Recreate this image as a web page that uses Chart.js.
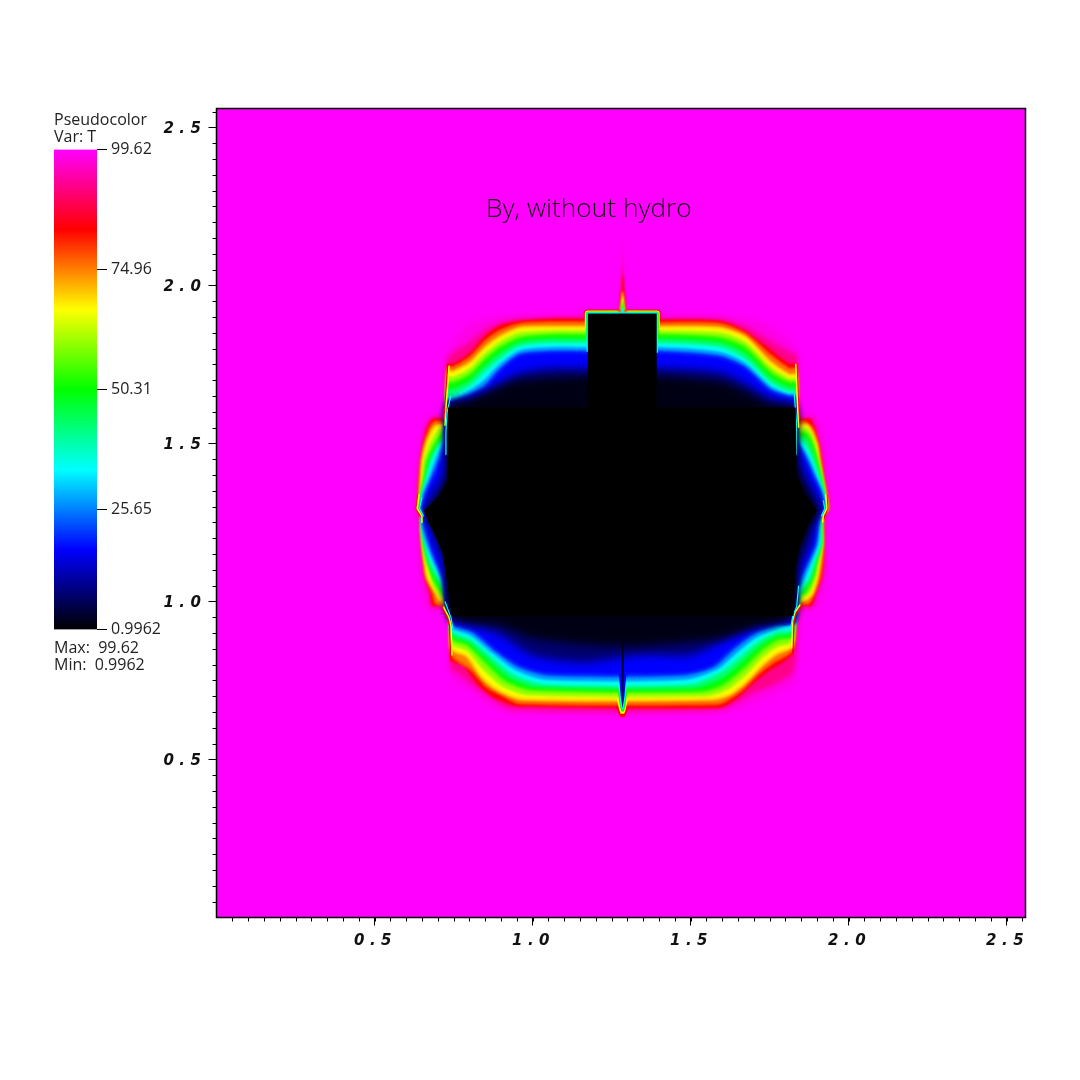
<!DOCTYPE html>
<html>
<head>
<meta charset="utf-8">
<title>By, without hydro</title>
<script src="https://cdn.jsdelivr.net/npm/chart.js@4"></script>
<style>
  html, body { margin: 0; padding: 0; background: #fff; }
  #page { position: relative; width: 1080px; height: 1080px; overflow: hidden; }
  canvas { position: absolute; display: block; }
  .rotulo { position: absolute; font-family: "Open Sans", sans-serif; font-size: 16px; line-height: 17px; color: #222; white-space: pre; }
  #titulo { position: absolute; left: 486px; top: 191px; font-family: "Open Sans", sans-serif; font-weight: 300; font-size: 26.3px; line-height: 32px; color: #111; white-space: pre; }
</style>
</head>
<body>
<div id="page">
  <canvas id="campo" width="1080" height="1080" style="left:0;top:0"></canvas>
  <canvas id="barra" width="120" height="507" style="left:54px;top:136px"></canvas>
  <div id="titulo">By, without hydro</div>
  <div class="rotulo" style="left:54px;top:111px">Pseudocolor
Var: T</div>
  <div class="rotulo" style="left:54px;top:639px">Max:  99.62
Min:  0.9962</div>
</div>
<script>
// ejes
const ejeMin = 0;
const ejeMax = 2.56;
const ticksEje = [0.5, 1.0, 1.5, 2.0, 2.5];
const pasoMenor = 0.05;

// barra de color
const tMin = 0.9962;
const tMax = 99.62;
const ticksBarra = [0.9962, 25.65, 50.31, 74.96, 99.62];
const etiquetasBarra = ['0.9962', '25.65', '50.31', '74.96', '99.62'];
const coloresBarra = ['#000000', '#0000ff', '#00ffff', '#00ff00', '#ffff00', '#ff0000', '#ff00ff'];

// contornos de T, [x, y]
const fondo = [[0, 0], [2.56, 0], [2.56, 2.56], [0, 2.56]];

const contorno98 = [[.632,1.294],[.635,1.383],[.642,1.470],[.656,1.545],[.680,1.590],[.720,1.594],[.726,1.594],[.730,1.780],[.793,1.876],[.866,1.898],[.960,1.904],[1.159,1.904],[1.403,1.904],[1.593,1.901],[1.697,1.892],[1.767,1.863],[1.813,1.825],[1.839,1.784],[1.842,1.591],[1.883,1.591],[1.906,1.559],[1.918,1.493],[1.931,1.414],[1.937,1.351],[1.937,1.294],[1.928,1.224],[1.927,1.088],[1.917,1.018],[1.887,.972],[1.846,.966],[1.830,.750],[1.804,.727],[1.697,.677],[1.593,.648],[1.381,.645],[.919,.648],[.843,.687],[.793,.727],[.745,.750],[.740,.924],[.722,.966],[.680,.972],[.655,1.010],[.645,1.076],[.641,1.224]];

const contorno92 = [[.634,1.294],[.636,1.345],[.639,1.395],[.645,1.450],[.652,1.505],[.664,1.558],[.684,1.584],[.720,1.584],[.724,1.584],[.730,1.768],[.797,1.816],[.850,1.860],[.897,1.883],[.960,1.895],[1.159,1.900],[1.403,1.897],[1.593,1.895],[1.672,1.872],[1.750,1.826],[1.813,1.790],[1.837,1.775],[1.840,1.584],[1.885,1.582],[1.897,1.555],[1.909,1.500],[1.918,1.446],[1.924,1.392],[1.933,1.341],[1.936,1.294],[1.923,1.269],[1.924,1.130],[1.918,1.076],[1.902,1.030],[1.884,.980],[1.846,.977],[1.827,.780],[1.770,.740],[1.697,.710],[1.593,.658],[.930,.660],[.860,.700],[.810,.735],[.770,.770],[.742,.785],[.738,.930],[.716,.980],[.680,.980],[.672,1.025],[.657,1.076],[.651,1.130],[.647,1.183],[.647,1.234]];

const contorno84 = [[.635,1.294],[.638,1.341],[.641,1.392],[.647,1.446],[.654,1.500],[.666,1.550],[.685,1.578],[.720,1.578],[.726,1.578],[.731,1.752],[.748,1.752],[.802,1.787],[.850,1.841],[.897,1.873],[.960,1.888],[1.055,1.895],[1.159,1.895],[1.403,1.892],[1.593,1.888],[1.672,1.857],[1.750,1.800],[1.813,1.752],[1.836,1.752],[1.842,1.578],[1.852,1.578],[1.877,1.578],[1.893,1.550],[1.906,1.500],[1.915,1.446],[1.921,1.392],[1.931,1.341],[1.934,1.294],[1.921,1.269],[1.921,1.234],[1.921,1.130],[1.915,1.076],[1.899,1.034],[1.883,.987],[1.852,.987],[1.843,.975],[1.830,.955],[1.823,.835],[1.750,.781],[1.697,.740],[1.646,.693],[1.593,.664],[.951,.668],[.938,.671],[.875,.696],[.824,.740],[.780,.797],[.742,.813],[.738,.930],[.720,.975],[.714,.987],[.682,.987],[.676,1.025],[.660,1.076],[.654,1.130],[.650,1.183],[.650,1.234],[.647,1.269]];

const contorno75 = [[.638,1.294],[.642,1.341],[.645,1.392],[.650,1.446],[.660,1.500],[.678,1.550],[.695,1.567],[.726,1.567],[.732,1.738],[.748,1.738],[.802,1.770],[.850,1.820],[.897,1.854],[.960,1.876],[1.055,1.881],[1.159,1.881],[1.403,1.879],[1.593,1.876],[1.672,1.846],[1.750,1.778],[1.813,1.733],[1.834,1.733],[1.839,1.567],[1.860,1.567],[1.885,1.545],[1.901,1.500],[1.910,1.446],[1.918,1.392],[1.928,1.341],[1.933,1.294],[1.918,1.269],[1.918,1.183],[1.915,1.130],[1.907,1.076],[1.891,1.030],[1.872,.996],[1.849,.996],[1.831,.960],[1.821,.848],[1.762,.810],[1.712,.772],[1.662,.722],[1.609,.686],[1.580,.678],[.960,.680],[.905,.705],[.858,.730],[.808,.785],[.745,.832],[.740,.932],[.720,.988],[.695,.996],[.687,1.025],[.665,1.076],[.657,1.130],[.652,1.183],[.650,1.234],[.649,1.270]];

const contorno66 = [[.641,1.294],[.647,1.341],[.650,1.392],[.654,1.446],[.666,1.500],[.691,1.550],[.707,1.556],[.726,1.556],[.733,1.724],[.748,1.724],[.802,1.752],[.850,1.800],[.897,1.835],[.960,1.863],[1.055,1.866],[1.159,1.866],[1.403,1.866],[1.593,1.863],[1.672,1.835],[1.750,1.756],[1.813,1.714],[1.833,1.714],[1.836,1.556],[1.868,1.556],[1.896,1.500],[1.905,1.446],[1.915,1.392],[1.924,1.341],[1.931,1.294],[1.915,1.269],[1.915,1.183],[1.908,1.130],[1.899,1.076],[1.883,1.025],[1.861,1.006],[1.846,1.006],[1.830,.965],[1.820,.860],[1.773,.838],[1.728,.803],[1.678,.750],[1.624,.708],[1.570,.693],[.970,.693],[.897,.718],[.843,.759],[.793,.829],[.745,.851],[.742,.933],[.720,1.000],[.707,1.006],[.698,1.025],[.669,1.076],[.660,1.130],[.654,1.183],[.650,1.234],[.650,1.272]];

const contorno58 = [[.642,1.294],[.648,1.341],[.655,1.392],[.661,1.446],[.680,1.500],[.705,1.540],[.726,1.544],[.733,1.706],[.748,1.706],[.802,1.733],[.850,1.781],[.897,1.818],[.960,1.847],[1.055,1.853],[1.159,1.853],[1.403,1.853],[1.593,1.847],[1.672,1.818],[1.750,1.740],[1.813,1.701],[1.833,1.701],[1.836,1.544],[1.867,1.544],[1.890,1.500],[1.902,1.446],[1.913,1.392],[1.922,1.341],[1.929,1.294],[1.913,1.269],[1.913,1.183],[1.903,1.130],[1.892,1.076],[1.872,1.026],[1.853,1.016],[1.846,1.016],[1.831,.963],[1.820,.876],[1.773,.860],[1.724,.824],[1.672,.770],[1.613,.724],[1.550,.705],[.985,.708],[.908,.734],[.850,.783],[.793,.848],[.747,.866],[.742,.937],[.722,1.015],[.710,1.017],[.690,1.050],[.677,1.103],[.665,1.130],[.655,1.183],[.652,1.234],[.652,1.272]];

const contorno50 = [[.644,1.294],[.650,1.341],[.660,1.392],[.669,1.446],[.695,1.500],[.717,1.531],[.726,1.531],[.733,1.689],[.748,1.689],[.802,1.714],[.850,1.762],[.897,1.800],[.960,1.831],[1.055,1.841],[1.159,1.841],[1.403,1.841],[1.593,1.831],[1.672,1.800],[1.750,1.724],[1.813,1.689],[1.833,1.689],[1.836,1.531],[1.865,1.531],[1.883,1.500],[1.899,1.446],[1.912,1.392],[1.921,1.341],[1.928,1.294],[1.912,1.269],[1.912,1.183],[1.899,1.130],[1.886,1.076],[1.861,1.028],[1.846,1.028],[1.833,.965],[1.820,.892],[1.773,.882],[1.719,.845],[1.665,.791],[1.602,.740],[1.529,.718],[1.001,.724],[.919,.750],[.856,.807],[.793,.867],[.748,.882],[.742,.940],[.723,1.028],[.717,1.028],[.685,1.076],[.669,1.130],[.657,1.183],[.654,1.234],[.654,1.272]];

const contorno42 = [[.645,1.294],[.652,1.341],[.664,1.392],[.677,1.446],[.705,1.500],[.720,1.515],[.726,1.515],[.733,1.667],[.748,1.667],[.802,1.695],[.850,1.742],[.897,1.781],[.960,1.817],[1.055,1.827],[1.159,1.827],[1.403,1.827],[1.593,1.816],[1.672,1.781],[1.750,1.706],[1.813,1.673],[1.831,1.673],[1.834,1.518],[1.860,1.516],[1.883,1.473],[1.900,1.420],[1.915,1.367],[1.923,1.318],[1.926,1.294],[1.910,1.269],[1.910,1.183],[1.894,1.130],[1.878,1.076],[1.853,1.034],[1.846,1.034],[1.833,.965],[1.820,.903],[1.773,.895],[1.714,.860],[1.655,.806],[1.597,.760],[1.513,.730],[1.017,.733],[.928,.762],[.860,.821],[.797,.876],[.748,.895],[.740,.940],[.723,1.034],[.712,1.052],[.682,1.103],[.666,1.157],[.655,1.209],[.652,1.250]];

const contorno33 = [[.647,1.294],[.654,1.341],[.669,1.392],[.685,1.446],[.714,1.500],[.723,1.496],[.733,1.645],[.748,1.645],[.802,1.676],[.850,1.721],[.897,1.762],[.960,1.803],[1.055,1.813],[1.159,1.813],[1.403,1.813],[1.593,1.800],[1.672,1.762],[1.750,1.689],[1.813,1.658],[1.830,1.658],[1.833,1.505],[1.855,1.500],[1.883,1.446],[1.902,1.392],[1.918,1.341],[1.925,1.294],[1.908,1.269],[1.908,1.183],[1.889,1.130],[1.871,1.076],[1.846,1.040],[1.833,.965],[1.820,.914],[1.773,.908],[1.709,.876],[1.646,.822],[1.593,.781],[1.497,.743],[1.033,.743],[.938,.775],[.865,.835],[.802,.886],[.748,.908],[.739,.939],[.723,1.040],[.707,1.076],[.679,1.130],[.663,1.183],[.654,1.234],[.650,1.272]];

const contorno25 = [[.648,1.294],[.658,1.341],[.677,1.392],[.696,1.446],[.718,1.500],[.729,1.636],[.748,1.636],[.802,1.663],[.850,1.698],[.897,1.746],[.960,1.790],[1.055,1.800],[1.159,1.800],[1.403,1.800],[1.593,1.785],[1.672,1.750],[1.750,1.678],[1.813,1.651],[1.830,1.651],[1.836,1.503],[1.860,1.473],[1.874,1.446],[1.896,1.392],[1.915,1.341],[1.922,1.294],[1.906,1.265],[1.900,1.183],[1.880,1.130],[1.858,1.076],[1.840,1.035],[1.830,.945],[1.773,.919],[1.703,.888],[1.640,.838],[1.582,.789],[1.480,.757],[1.044,.757],[.950,.786],[.876,.840],[.806,.897],[.748,.919],[.736,.947],[.720,1.058],[.701,1.103],[.677,1.157],[.660,1.209],[.652,1.253]];

const contorno17 = [[.650,1.294],[.663,1.341],[.685,1.392],[.707,1.446],[.723,1.500],[.729,1.629],[.748,1.629],[.802,1.651],[.850,1.676],[.897,1.730],[.960,1.778],[1.055,1.787],[1.159,1.787],[1.403,1.787],[1.593,1.771],[1.672,1.737],[1.750,1.667],[1.813,1.645],[1.830,1.645],[1.839,1.500],[1.865,1.446],[1.889,1.392],[1.912,1.341],[1.920,1.294],[1.905,1.260],[1.893,1.183],[1.871,1.130],[1.846,1.076],[1.836,1.030],[1.830,.933],[1.773,.930],[1.697,.901],[1.634,.854],[1.570,.797],[1.466,.772],[1.055,.772],[.960,.797],[.887,.845],[.811,.908],[.748,.930],[.733,.955],[.717,1.076],[.695,1.130],[.676,1.183],[.660,1.234],[.654,1.272]];

const contorno8 = [[.660,1.294],[.682,1.341],[.717,1.392],[.729,1.446],[.729,1.630],[.802,1.640],[.850,1.660],[.897,1.690],[.960,1.722],[1.055,1.738],[1.159,1.738],[1.403,1.738],[1.593,1.725],[1.672,1.690],[1.750,1.645],[1.813,1.628],[1.833,1.626],[1.836,1.500],[1.846,1.446],[1.866,1.392],[1.893,1.341],[1.912,1.294],[1.890,1.250],[1.878,1.183],[1.853,1.130],[1.836,1.080],[1.813,.949],[1.697,.925],[1.593,.870],[1.497,.830],[1.340,.830],[1.159,.808],[1.001,.830],[.897,.895],[.748,.946],[.729,.971],[.723,1.076],[.717,1.130],[.696,1.183],[.681,1.234],[.662,1.272]];

const contorno3 = [[.668,1.294],[.713,1.341],[.729,1.400],[.733,1.613],[.802,1.640],[.900,1.680],[.960,1.700],[1.159,1.712],[1.403,1.712],[1.593,1.695],[1.680,1.660],[1.750,1.625],[1.833,1.610],[1.836,1.440],[1.850,1.390],[1.880,1.330],[1.905,1.288],[1.880,1.240],[1.855,1.180],[1.840,1.130],[1.830,.955],[1.700,.915],[1.593,.885],[1.340,.860],[1.159,.865],[1.000,.885],[.897,.925],[.739,.949],[.729,1.130],[.712,1.183],[.687,1.234],[.668,1.272]];

// nucleo negro con el bloque central
const nucleo = [[.733,1.614],[1.175,1.614],[1.175,1.911],[1.393,1.911],[1.393,1.614],[1.833,1.614],[1.836,1.400],[1.865,1.335],[1.900,1.288],[1.872,1.240],[1.848,1.180],[1.833,1.110],[1.826,.955],[.745,.955],[.725,1.090],[.716,1.150],[.696,1.200],[.670,1.250],[.656,1.288],[.700,1.330],[.729,1.380]];

// frente: borde fino del bloque y de los lados
const bloqueRojo = [[1.175,1.895],[1.175,1.911],[1.393,1.911],[1.393,1.895]];
const bloqueAmarillo = [[1.175,1.866],[1.175,1.911],[1.393,1.911],[1.393,1.866]];
const bloqueVerde = [[1.175,1.841],[1.175,1.911],[1.393,1.911],[1.393,1.841]];
const bloqueCian = [[1.175,1.790],[1.175,1.911],[1.393,1.911],[1.393,1.790]];

const ladoRojo1 = [[.732,1.752],[.723,1.610],[.720,1.578]];
const ladoAmarillo1 = [[.736,1.746],[.726,1.610],[.723,1.556]];
const ladoCian1 = [[.741,1.650],[.730,1.600],[.726,1.540],[.726,1.465]];
const ladoRojo2 = [[1.836,1.752],[1.842,1.610],[1.845,1.578]];
const ladoAmarillo2 = [[1.833,1.752],[1.839,1.610],[1.842,1.550]];
const ladoCian2 = [[1.828,1.658],[1.835,1.570],[1.835,1.465]];
const ladoRojo3 = [[.714,.984],[.731,.947],[.738,.922],[.741,.813]];
const ladoAmarillo3 = [[.718,.984],[.736,.949],[.742,.924],[.745,.829]];
const ladoCian3 = [[.723,1.000],[.742,.949],[.748,.914]];
const ladoRojo4 = [[1.852,.987],[1.834,.962],[1.827,.937],[1.824,.835]];
const ladoAmarillo4 = [[1.847,.990],[1.830,.965],[1.823,.939],[1.820,.851]];
const ladoCian4 = [[1.842,1.050],[1.836,.984],[1.823,.952],[1.817,.914]];
const puntaRojo1 = [[.638,1.340],[.632,1.294],[.641,1.278],[.647,1.267]];
const puntaAmarillo1 = [[.641,1.340],[.635,1.294],[.644,1.280],[.650,1.269],[.650,1.250]];
const puntaCian1 = [[.650,1.330],[.642,1.294],[.650,1.280],[.655,1.269]];
const puntaRojo2 = [[1.931,1.340],[1.934,1.294],[1.925,1.272],[1.921,1.260]];
const puntaAmarillo2 = [[1.928,1.340],[1.931,1.294],[1.920,1.272],[1.918,1.250]];
const puntaCian2 = [[1.920,1.320],[1.925,1.294],[1.914,1.270]];

// chorro superior
const chorro98 = [[1.271,1.920],[1.278,2.000],[1.283,2.150],[1.287,2.150],[1.292,2.000],[1.299,1.920]];
const chorro92 = [[1.273,1.920],[1.280,2.000],[1.284,2.080],[1.286,2.080],[1.290,2.000],[1.297,1.920]];
const chorro84 = [[1.275,1.920],[1.280,1.980],[1.283,2.030],[1.287,2.030],[1.290,1.980],[1.295,1.920]];
const chorro66 = [[1.277,1.920],[1.281,1.960],[1.284,1.985],[1.286,1.985],[1.289,1.960],[1.293,1.920]];
const chorro50 = [[1.279,1.920],[1.282,1.940],[1.285,1.955],[1.288,1.940],[1.291,1.920]];
const chorro33 = [[1.281,1.915],[1.285,1.930],[1.289,1.915]];

// muesca inferior
const muesca84 = [[1.263,.668],[1.274,.642],[1.279,.634],[1.290,.634],[1.295,.642],[1.306,.668]];
const muesca66 = [[1.267,.693],[1.274,.658],[1.279,.645],[1.290,.645],[1.295,.658],[1.302,.693]];
const muesca50 = [[1.270,.718],[1.276,.671],[1.281,.652],[1.289,.652],[1.294,.671],[1.300,.718]];
const muesca33 = [[1.271,.743],[1.277,.687],[1.282,.658],[1.287,.658],[1.292,.687],[1.298,.743]];
const muesca17 = [[1.273,.772],[1.279,.702],[1.285,.661],[1.291,.702],[1.297,.772]];
const muesca8 = [[1.280,.838],[1.284,.687],[1.285,.668],[1.287,.687],[1.290,.838]];
const muesca3 = [[1.283,.870],[1.285,.702],[1.286,.702],[1.288,.870]];

const c98 = '#ff00e5', c92 = '#ff008a', c84 = '#ff0000', c75 = '#ff8000', c66 = '#ffff00', c58 = '#80ff00', c50 = '#00ff00', c42 = '#00ff80', c33 = '#00ffff', c25 = '#0080ff', c17 = '#0000ff', c8 = '#00006e', c3 = '#000014';

// borde del mismo color: ensancha el contorno para compensar el desenfoque
function poligono(puntos, color, desenfoque, tension, borde) {
    return {
        data: puntos.map(p => ({ x: p[0], y: p[1] })),
        showLine: true,
        fill: 'shape',
        backgroundColor: color,
        borderColor: color,
        borderWidth: borde || 0,
        pointRadius: 0,
        tension: tension || 0,
        desenfoque: desenfoque
    };
}

function linea(puntos, color, ancho) {
    return {
        data: puntos.map(p => ({ x: p[0], y: p[1] })),
        showLine: true,
        fill: false,
        borderColor: color,
        borderWidth: ancho,
        borderJoinStyle: 'round',
        pointRadius: 0,
        desenfoque: 0.5
    };
}

// del fondo hacia adelante
const capas = [
    poligono(fondo, '#ff00ff', 0),
    poligono(contorno98, c98, 4, 0.25),
    poligono(contorno92, c92, 2.5, 0.25),
    poligono(contorno84, c84, 1, 0.25),
    poligono(contorno75, c75, 1.8, 0.25, 2),
    poligono(contorno66, c66, 1.8, 0.25, 2),
    poligono(contorno58, c58, 1.8, 0.25, 2),
    poligono(contorno50, c50, 1.8, 0.25, 2),
    poligono(contorno42, c42, 1.8, 0.25, 2),
    poligono(contorno33, c33, 1.8, 0.25, 2),
    poligono(contorno25, c25, 1.8, 0.25, 2),
    poligono(contorno17, c17, 1.8, 0.25, 2),
    poligono(contorno8, c8, 4.5, 0.25),
    poligono(contorno3, c3, 4.5, 0.25),
    linea(ladoRojo1, c84, 1.5), linea(ladoAmarillo1, c66, 1.5), linea(ladoCian1, c33, 1.2),
    linea(ladoRojo2, c84, 1.5), linea(ladoAmarillo2, c66, 1.5), linea(ladoCian2, c33, 1.2),
    linea(ladoRojo3, c84, 1.5), linea(ladoAmarillo3, c66, 1.5), linea(ladoCian3, c33, 1.2),
    linea(ladoRojo4, c84, 1.5), linea(ladoAmarillo4, c66, 1.5), linea(ladoCian4, c33, 1.2),
    linea(puntaRojo1, c84, 1.5), linea(puntaAmarillo1, c66, 1.5), linea(puntaCian1, c33, 1.2),
    linea(puntaRojo2, c84, 1.5), linea(puntaAmarillo2, c66, 1.5), linea(puntaCian2, c33, 1.2),
    linea(bloqueRojo, c84, 8),
    linea(bloqueAmarillo, c66, 6),
    linea(bloqueVerde, c50, 4),
    linea(bloqueCian, c33, 2.5),
    poligono(nucleo, '#000000', 0),
    poligono(chorro98, c98, 0.8),
    poligono(chorro92, c92, 0.8),
    poligono(chorro84, c84, 0.8),
    poligono(chorro66, c66, 0.8),
    poligono(chorro50, c50, 0.8),
    poligono(chorro33, c33, 0.6),
    poligono(muesca84, c84, 0.6),
    poligono(muesca66, c66, 0.6),
    poligono(muesca50, c50, 0.6),
    poligono(muesca33, c33, 0.6),
    poligono(muesca17, c17, 0.6),
    poligono(muesca8, c8, 0.6),
    poligono(muesca3, c3, 0.6)
];

function filtro(dataset) {
    return dataset && dataset.desenfoque ? `blur(${dataset.desenfoque}px)` : 'none';
}

// Chart dibuja del ultimo dataset al primero, el filler rellena antes de cada uno
const pluginCampo = {
    id: 'pluginCampo',
    beforeDraw(chart) {
        chart.ctx.letterSpacing = '5.5px';
    },
    beforeDatasetsDraw(chart) {
        const ds = chart.data.datasets;
        chart.ctx.filter = filtro(ds[ds.length - 1]);
    },
    afterDatasetDraw(chart, args) {
        chart.ctx.filter = filtro(chart.data.datasets[args.index - 1]);
    },
    afterDatasetsDraw(chart) {
        chart.ctx.filter = 'none';
    },
    afterDraw(chart) {
        const { ctx, chartArea, scales } = chart;
        ctx.save();
        ctx.strokeStyle = '#000';
        ctx.lineWidth = 1.5;
        ctx.strokeRect(chartArea.left, chartArea.top, chartArea.right - chartArea.left, chartArea.bottom - chartArea.top);
        ctx.lineWidth = 1;
        ctx.beginPath();
        for (let i = 1; i * pasoMenor < ejeMax; i++) {
            const v = i * pasoMenor;
            const px = Math.round(scales.x.getPixelForValue(v)) + 0.5;
            const py = Math.round(scales.y.getPixelForValue(v)) + 0.5;
            ctx.moveTo(px, chartArea.bottom);
            ctx.lineTo(px, chartArea.bottom + 4);
            ctx.moveTo(chartArea.left, py);
            ctx.lineTo(chartArea.left - 4, py);
        }
        ctx.stroke();
        ctx.restore();
    }
};

function ejeCampo(tamano, corrimiento, relleno) {
    return {
        type: 'linear',
        min: ejeMin,
        max: ejeMax,
        afterBuildTicks: scale => { scale.ticks = ticksEje.map(v => ({ value: v })); },
        afterFit: tamano,
        ticks: {
            autoSkip: false,
            maxRotation: 0,
            padding: relleno,
            labelOffset: corrimiento,
            color: '#111',
            font: { family: '"DejaVu Sans"', size: 15, weight: 'bold', style: 'italic' },
            callback: v => v.toFixed(1)
        },
        grid: { drawOnChartArea: false, tickLength: 8, tickColor: '#000', tickWidth: 1 },
        border: { color: '#000', width: 1 }
    };
}

new Chart(document.getElementById('campo'), {
    type: 'scatter',
    data: { datasets: capas.slice().reverse() },
    options: {
        responsive: false,
        animation: false,
        events: [],
        layout: { padding: { top: 108.5, right: 54.5, bottom: 0, left: 0 } },
        plugins: { legend: { display: false }, tooltip: { enabled: false }, title: { display: false } },
        scales: {
            x: ejeCampo(s => { s.height = 162.5; }, 1, 7),
            y: ejeCampo(s => { s.width = 216.5; }, 2, 2)
        }
    },
    plugins: [pluginCampo]
});

new Chart(document.getElementById('barra'), {
    type: 'bar',
    data: {
        labels: ['T'],
        datasets: [{
            data: [[tMin, tMax]],
            barPercentage: 1,
            categoryPercentage: 1,
            borderWidth: 0,
            backgroundColor: context => {
                const area = context.chart.chartArea;
                if (!area) return '#000';
                const g = context.chart.ctx.createLinearGradient(0, area.bottom, 0, area.top);
                coloresBarra.forEach((c, i) => g.addColorStop(i / (coloresBarra.length - 1), c));
                return g;
            }
        }]
    },
    options: {
        responsive: false,
        animation: false,
        events: [],
        layout: { padding: { top: 12, right: 0, bottom: 12, left: 0 } },
        plugins: { legend: { display: false }, tooltip: { enabled: false } },
        scales: {
            x: { display: false },
            y: {
                position: 'right',
                min: tMin,
                max: tMax,
                afterBuildTicks: scale => { scale.ticks = ticksBarra.map(v => ({ value: v })); },
                afterFit: s => { s.width = 77; },
                ticks: {
                    autoSkip: false,
                    padding: 4,
                    color: '#222',
                    font: { family: '"Open Sans"', size: 16 },
                    callback: (v, i) => etiquetasBarra[i]
                },
                grid: { drawOnChartArea: false, tickLength: 10, tickColor: '#000', tickWidth: 1 },
                border: { display: false }
            }
        }
    }
});
</script>
</body>
</html>
